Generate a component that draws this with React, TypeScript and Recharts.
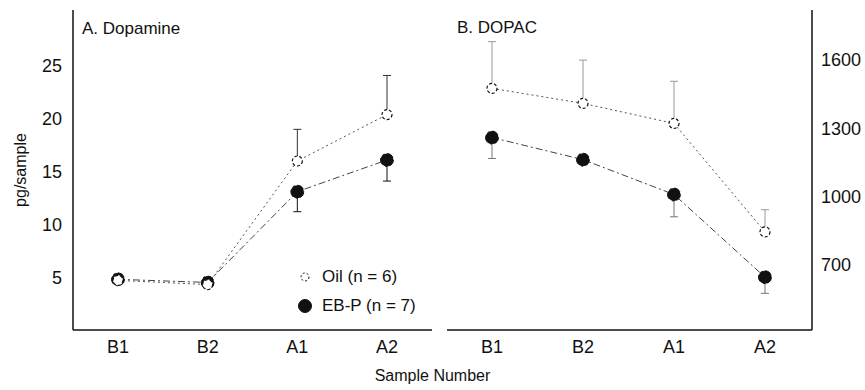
import React from 'react';
import { LineChart, Line, XAxis, YAxis, ErrorBar } from 'recharts';

const categories = ['B1', 'B2', 'A1', 'A2'];

// A. Dopamine (pg/sample)
const dopamineOil = [4.7, 4.3, 16.0, 20.4];
const dopamineOilErrUp = [0.3, 0.3, 3.0, 3.7];
const dopamineEbp = [4.8, 4.5, 13.1, 16.1];
const dopamineEbpErrDown = [0.3, 0.3, 1.9, 2.0];

// B. DOPAC (pg/sample)
const dopacOil = [1476, 1410, 1322, 846];
const dopacOilErrUp = [205, 190, 185, 97];
const dopacEbp = [1260, 1163, 1010, 647];
const dopacEbpErrDown = [92, 0, 98, 71];

const dopamineTicks = [5, 10, 15, 20, 25];
const dopacTicks = [700, 1000, 1300, 1600];

const legendItems = [
  { name: 'Oil (n = 6)', filled: false },
  { name: 'EB-P (n = 7)', filled: true },
];

const dopamineData = categories.map((cat, i) => ({
  cat,
  oil: dopamineOil[i],
  oilErr: [0, dopamineOilErrUp[i]],
  ebp: dopamineEbp[i],
  ebpErr: [dopamineEbpErrDown[i], 0],
}));

const dopacData = categories.map((cat, i) => ({
  cat,
  oil: dopacOil[i],
  oilErr: [0, dopacOilErrUp[i]],
  ebp: dopacEbp[i],
  ebpErr: [dopacEbpErrDown[i], 0],
}));

const FONT = '"Liberation Sans", Arial, Helvetica, sans-serif';
const INK = '#111';
const axisLine = { stroke: INK, strokeWidth: 1.5 };
const tickStyle = { fill: INK, fontSize: 18, fontFamily: FONT };

const oilDot = { r: 5, fill: '#fff', stroke: INK, strokeWidth: 1.2, strokeDasharray: '3 2' };
const ebpDot = { r: 6.5, fill: INK, stroke: INK, strokeWidth: 1 };

function LegendBox() {
  return (
    <div style={{ fontFamily: FONT, fontSize: 17, color: INK }}>
      {legendItems.map((it) => (
        <div key={it.name} style={{ display: 'flex', alignItems: 'center', height: 29 }}>
          <svg width={18} height={18} style={{ marginRight: 8 }}>
            <circle
              cx={9}
              cy={9}
              r={it.filled ? 6.5 : 4}
              fill={it.filled ? INK : '#fff'}
              stroke={INK}
              strokeWidth={1}
              strokeDasharray={it.filled ? undefined : '2 2'}
            />
          </svg>
          <span>{it.name}</span>
        </div>
      ))}
    </div>
  );
}

export default function App() {
  return (
    <div
      style={{
        position: 'absolute',
        left: 0,
        top: 0,
        width: 865,
        height: 390,
        background: '#fff',
        fontFamily: FONT,
        color: INK,
      }}
    >
      {/* Left panel: Dopamine */}
      <div style={{ position: 'absolute', left: 0, top: 0 }}>
        <LineChart width={440} height={390} data={dopamineData} margin={{ top: 10, right: 8, bottom: 30, left: 0 }}>
          <XAxis
            dataKey="cat"
            padding={{ left: 45, right: 45 }}
            tickSize={0}
            tickMargin={10}
            axisLine={axisLine}
            tick={tickStyle}
            height={30}
          />
          <XAxis xAxisId="top" orientation="top" dataKey="cat" tick={false} tickLine={false} height={0} axisLine={axisLine} padding={{ left: 45, right: 45 }} />
          <YAxis
            domain={[0, 30.3]}
            ticks={dopamineTicks}
            width={73}
            tickSize={0}
            tickMargin={11}
            axisLine={axisLine}
            tick={tickStyle}
            allowDataOverflow
          />
          <YAxis yAxisId="r" orientation="right" tick={false} tickLine={false} width={0} axisLine={axisLine} domain={[0, 1]} />
          <Line
            dataKey="ebp"
            stroke="#444"
            strokeWidth={1}
            strokeDasharray="7 3 2 3"
            dot={ebpDot}
            isAnimationActive={false}
          >
            <ErrorBar dataKey="ebpErr" width={4} stroke={INK} strokeWidth={1} direction="y" />
          </Line>
          <Line
            dataKey="oil"
            stroke="#555"
            strokeWidth={1}
            strokeDasharray="2 3"
            dot={oilDot}
            isAnimationActive={false}
          >
            <ErrorBar dataKey="oilErr" width={4} stroke="#333" strokeWidth={1} direction="y" />
          </Line>
        </LineChart>
      </div>

      {/* Right panel: DOPAC */}
      <div style={{ position: 'absolute', left: 440, top: 0 }}>
        <LineChart width={425} height={390} data={dopacData} margin={{ top: 10, right: 0, bottom: 30, left: 7 }}>
          <XAxis
            dataKey="cat"
            padding={{ left: 45, right: 47 }}
            tickSize={0}
            tickMargin={10}
            axisLine={axisLine}
            tick={tickStyle}
            height={30}
          />
          <YAxis
            orientation="right"
            domain={[415, 1820]}
            ticks={dopacTicks}
            width={53}
            tickSize={0}
            tickMargin={9}
            axisLine={axisLine}
            tick={tickStyle}
            allowDataOverflow
          />
          <YAxis yAxisId="l" orientation="left" tick={false} tickLine={false} width={0} axisLine={axisLine} domain={[0, 1]} />
          <Line
            dataKey="ebp"
            stroke="#444"
            strokeWidth={1}
            strokeDasharray="7 3 2 3"
            dot={ebpDot}
            isAnimationActive={false}
          >
            <ErrorBar dataKey="ebpErr" width={4} stroke="#777" strokeWidth={1} direction="y" />
          </Line>
          <Line
            dataKey="oil"
            stroke="#555"
            strokeWidth={1}
            strokeDasharray="2 3"
            dot={oilDot}
            isAnimationActive={false}
          >
            <ErrorBar dataKey="oilErr" width={4} stroke="#999" strokeWidth={1} direction="y" />
          </Line>
        </LineChart>
      </div>

      {/* Panel titles */}
      <div style={{ position: 'absolute', left: 82, top: 19, fontSize: 17, lineHeight: '20px' }}>A. Dopamine</div>
      <div style={{ position: 'absolute', left: 457, top: 18, fontSize: 17, lineHeight: '20px' }}>B. DOPAC</div>

      {/* Legend */}
      <div style={{ position: 'absolute', left: 296, top: 262 }}>
        <LegendBox />
      </div>

      {/* Axis titles */}
      <div
        style={{
          position: 'absolute',
          left: 21,
          top: 170,
          fontSize: 16,
          whiteSpace: 'nowrap',
          transform: 'translate(-50%, -50%) rotate(-90deg)',
        }}
      >
        pg/sample
      </div>
      <div
        style={{
          position: 'absolute',
          left: 0,
          width: 865,
          top: 366,
          fontSize: 16,
          lineHeight: '20px',
          textAlign: 'center',
        }}
      >
        Sample Number
      </div>
    </div>
  );
}
